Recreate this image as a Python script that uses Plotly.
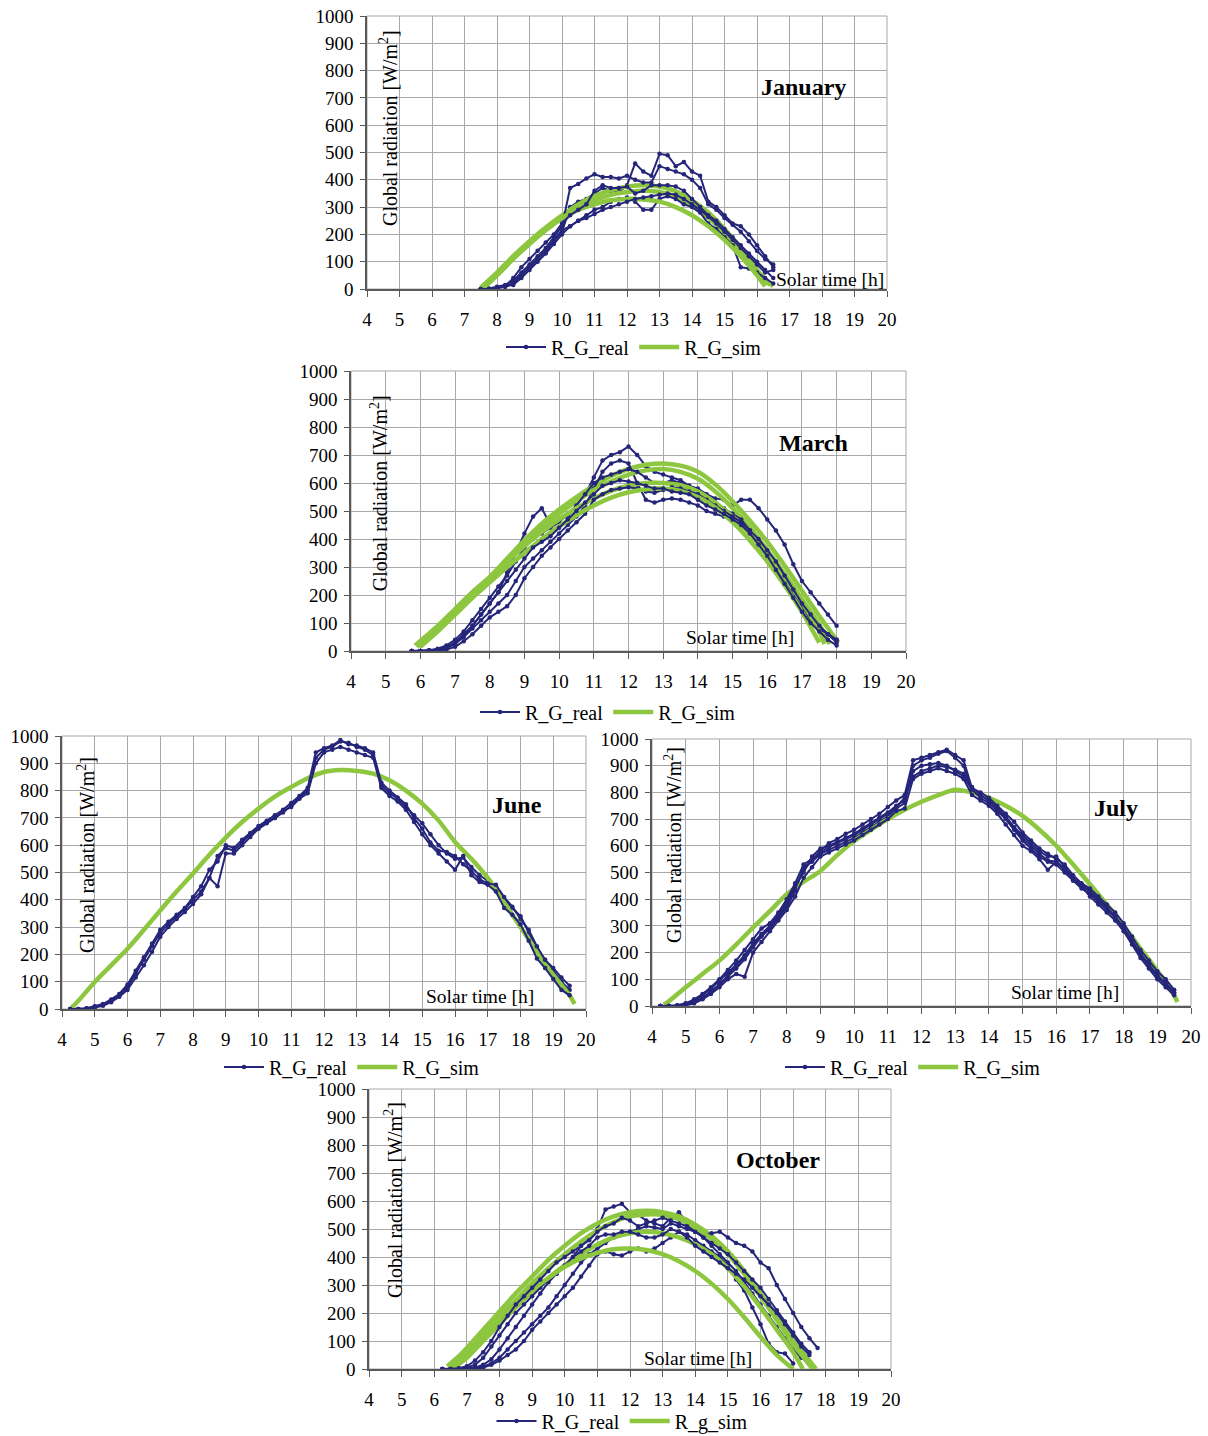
import numpy as np
import plotly.graph_objects as go

# ---------------- DATA ----------------
# January (real: 15-min samples 7.5 h .. 16.5 h)
jan_t_real = np.arange(7.5, 16.51, 0.25)
jan_real_1 = [0,0,5,10,20,50, 80,110,140,175, 210,300,320,330, 350,370,360,355, 380,460,430,415, 495,490,450,465, 430,415,320,300, 270,240,230,200, 160,120,80]
jan_real_2 = [0,2,8,15,30,60, 90,120,150,190, 230,370,385,405, 420,410,410,405, 415,400,390,390, 450,440,430,420, 400,370,310,290, 260,235,210,175, 140,110,90]
jan_real_3 = [0,0,5,10,15,40, 70,100,130,165, 200,230,250,270, 290,300,320,330, 335,320,290,290, 330,340,330,310, 300,280,240,220, 190,160,80,75, 60,40,20]
jan_real_4 = [0,0,5,10,40,80, 110,140,170,200, 240,270,290,310, 360,380,370,370, 375,350,360,380, 380,380,375,360, 330,300,270,250, 220,190,160,130, 100,70,40]
jan_real_5 = [0,0,3,8,20,50, 80,110,140,180, 215,230,250,260, 275,290,300,310, 320,330,335,340, 345,350,345,330, 310,290,265,240, 210,180,150,120, 90,60,70]
jan_sim_t1 = [7.5,8,8.5,9,9.5,10,10.5,11,11.5,12,12.5,13,13.5,14,14.5,15,15.5,16,16.4]
jan_sim_1 = [5,60,120,175,225,270,310,340,362,375,380,375,358,325,280,220,150,70,15]
jan_sim_t2 = [7.6,8,8.5,9,9.5,10,10.5,11,11.5,12,12.5,13,13.5,14,14.5,15,15.5,16,16.5]
jan_sim_2 = [5,50,110,165,215,260,295,325,345,355,360,355,338,305,262,205,140,65,10]
jan_sim_t3 = [7.5,8,8.5,9,9.5,10,10.5,11,11.5,12,12.5,13,13.5,14,14.5,15,15.5,16,16.25]
jan_sim_3 = [5,55,115,170,220,260,290,310,325,330,328,320,300,270,230,180,120,50,10]

# March (real: 5.75 h .. 18 h)
mar_t_real = np.arange(5.75, 18.01, 0.25)
mar_real_1 = [0, 0,2,5,15, 30,60,90,130, 170,210,280,350, 420,480,510,450, 470,480,520,560, 620,680,700,710, 730,700,660,640, 630,620,610,590, 580,560,545,540, 520,540,540,510, 470,430,380,310, 250,210,170,130, 90]
mar_real_2 = [0, 0,0,3,10, 25,50,80,110, 140,170,200,250, 300,330,360,390, 420,450,480,520, 580,640,670,680, 670,600,540,530, 540,545,540,530, 520,500,490,480, 470,450,420,380, 340,290,250,200, 160,120,90,60, 40]
mar_real_3 = [0, 0,3,8,20, 40,70,110,150, 190,230,270,320, 370,400,420,440, 460,490,520,560, 600,620,630,640, 650,640,620,600, 600,610,600,590, 570,550,530,510, 490,470,430,390, 350,300,250,200, 150,110,80,60, 40]
mar_real_4 = [0, 0,0,2,5, 15,35,60,90, 120,140,160,200, 260,300,340,370, 400,430,460,490, 540,560,575,580, 585,580,570,565, 575,585,580,570, 560,540,520,500, 480,460,430,400, 360,320,270,220, 170,130,90,60, 30]
mar_real_5 = [0, 0,2,5,12, 30,55,90,130, 170,210,250,290, 330,370,390,410, 440,470,500,530, 560,590,600,610, 605,600,590,580, 580,570,565,560, 540,520,505,490, 470,450,420,380, 340,290,240,190, 140,100,70,40, 20]
mar_sim_t1 = [5.85,6.5,7,7.5,8,8.5,9,9.5,10,10.5,11,11.5,12,12.5,13,13.5,14,14.5,15,15.5,16,16.5,17,17.5,18.05]
mar_sim_1 = [20,90,150,210,265,330,395,455,505,550,590,625,650,665,670,662,640,595,535,465,390,305,215,125,30]
mar_sim_t2 = [5.9,6.5,7,7.5,8,8.5,9,9.5,10,10.5,11,11.5,12,12.5,13,13.5,14,14.5,15,15.5,16,16.5,17,17.5,17.8]
mar_sim_2 = [15,80,140,200,255,320,385,440,490,535,575,605,630,645,650,640,615,570,510,440,360,275,185,95,25]
mar_sim_t3 = [5.9,6.5,7,7.5,8,8.5,9,9.5,10,10.5,11,11.5,12,12.5,13,13.5,14,14.5,15,15.5,16,16.5,17,17.5,17.65]
mar_sim_3 = [20,85,145,205,260,320,375,425,470,510,545,572,590,600,600,592,570,530,480,420,345,265,175,70,25]
mar_sim_t4 = [6.0,6.5,7,7.5,8,8.5,9,9.5,10,10.5,11,11.5,12,12.5,13,13.5,14,14.5,15,15.5,16,16.5,17,17.5]
mar_sim_4 = [15,70,130,190,245,300,350,400,445,485,520,548,567,578,580,572,550,512,460,395,320,235,140,30]

# June (real: 4.25 h .. 19.5 h)
jun_t_real = np.arange(4.25, 19.51, 0.25)
jun_real_1 = [0,0,2,8, 15,30,50,80, 130,180,230,280, 310,340,365,400, 430,480,560,590, 580,610,640,665, 685,700,720,745, 775,800,920,950, 960,980,975,960, 950,930,820,790, 770,740,710,680, 640,600,570,550, 555,520,490,470, 450,400,370,340, 280,220,180,140, 100,70]
jun_real_2 = [0,0,3,10, 18,35,55,90, 140,190,240,290, 320,345,370,410, 450,510,540,600, 590,620,645,670, 690,710,730,755, 780,810,940,955, 965,985,970,965, 955,940,830,800, 775,750,700,660, 610,580,575,560, 530,505,475,460, 455,410,375,330, 290,230,180,150, 115,85]
jun_real_3 = [0,0,0,5, 12,25,45,70, 115,160,210,265, 300,330,355,385, 420,480,450,570, 570,600,630,660, 680,700,725,740, 770,790,900,940, 950,960,950,940, 930,920,810,780, 760,730,685,640, 600,570,540,510, 560,490,465,455, 430,370,345,310, 250,185,150,110, 70,50]
jun_sim_t1 = [4.3,4.5,5,5.5,6,6.5,7,7.5,8,8.5,9,9.5,10,10.5,11,11.5,12,12.5,13,13.5,14,14.5,15,15.5,16,16.5,17,17.5,18,18.5,19,19.5,19.65]
jun_sim_1 = [5,30,99,160,221,290,361,430,496,565,628,685,734,778,813,845,868,875,872,862,838,800,752,690,612,550,480,390,300,210,125,50,18]

# July (real: 4.25 h .. 19.5 h)
jul_t_real = np.arange(4.25, 19.51, 0.25)
jul_real_1 = [0,0,0,5, 15,30,55,80, 110,140,175,220, 260,290,330,370, 430,520,540,570, 585,600,615,630, 650,670,690,710, 740,760,900,920, 930,945,955,930, 900,800,790,770, 740,710,670,640, 610,580,560,560, 520,480,450,430, 400,370,340,300, 250,200,160,120, 90,60]
jul_real_2 = [0,0,2,8, 20,40,65,95, 125,155,190,235, 270,300,340,390, 450,500,560,590, 600,615,630,645, 665,685,705,725, 750,770,880,900, 905,910,900,880, 860,810,780,760, 730,700,660,620, 590,560,540,530, 500,470,440,420, 390,360,330,290, 240,190,150,110, 80,50]
jul_real_3 = [0,0,0,3, 10,25,45,70, 100,120,110,200, 240,280,320,360, 410,480,520,560, 575,590,605,620, 640,660,680,700, 730,740,850,870, 880,890,880,870, 850,790,770,750, 720,680,640,600, 580,550,510,540, 510,470,450,410, 380,350,320,280, 230,180,140,100, 70,40]
jul_real_4 = [0,0,3,10, 25,45,70,100, 135,170,210,250, 290,310,350,400, 460,530,550,580, 610,625,645,660, 680,700,720,745, 770,790,920,930, 940,950,960,940, 920,815,800,780, 750,720,690,650, 620,590,570,550, 530,490,460,440, 410,380,350,310, 260,210,170,130, 100,60]
jul_real_5 = [0,0,0,4, 12,28,50,80, 115,150,185,230, 265,300,335,380, 440,510,545,575, 595,610,625,640, 660,680,700,720, 745,780,860,880, 890,900,895,885, 870,820,790,770, 740,705,665,630, 600,570,545,540, 515,480,455,430, 400,370,335,295, 245,195,155,115, 85,50]
jul_sim_t1 = [4.35,4.5,5,5.5,6,6.5,7,7.5,8,8.5,9,9.5,10,10.5,11,11.5,12,12.5,13,13.5,14,14.5,15,15.5,16,16.5,17,17.5,18,18.5,19,19.5,19.6]
jul_sim_1 = [5,18,70,120,170,230,294,355,419,465,506,565,618,660,700,735,765,790,810,800,780,750,712,660,600,530,456,380,300,215,132,40,15]

# October (real: 6.25 h .. 17.75 h)
oct_t_real = np.arange(6.25, 17.76, 0.25)
oct_real_1 = [0,0,0,2, 5,15,35,70, 110,150,190,230, 270,310,340,370, 400,440,470,500, 570,580,590,560, 550,530,520,510, 540,560,520,490, 470,440,410,380, 350,310,270,230, 190,150,110,70, 40,20,None]
oct_real_2 = [0,0,0,0, 3,8,20,40, 70,100,130,160, 190,220,260,300, 340,380,410,430, 450,470,480,490, 500,510,505,500, 520,510,500,490, 480,485,490,470, 450,440,420,380, 360,300,250,200, 150,110,75]
oct_real_3 = [0,0,0,0, 0,5,15,30, 50,70,100,140, 170,200,230,260, 290,330,370,410, 420,410,405,420, 430,420,430,450, 470,490,480,460, 440,420,400,370, 320,280,220,160, 90,60,55,20, None,None,None]
oct_real_4 = [0,0,2,5, 15,40,80,120, 160,200,230,260, 290,320,340,370, 400,420,440,470, 480,480,490,490, 480,470,470,480, 500,490,470,440, 420,400,380,360, 340,320,290,260, 230,200,160,120, 80,50,None]
oct_real_5 = [0,0,3,10, 30,60,100,150, 190,230,260,290, 320,350,380,400, 420,440,460,490, 510,520,540,530, 510,520,530,540, 530,520,510,490, 470,450,430,410, 380,350,320,290, 250,210,170,130, 90,60,None]
oct_sim_t1 = [6.4,6.75,7,7.5,8,8.5,9,9.5,10,10.5,11,11.5,12,12.5,13,13.5,14,14.5,15,15.5,16,16.5,17,17.5,17.7]
oct_sim_1 = [10,45,75,140,205,270,330,390,440,485,520,545,560,565,560,545,515,475,420,350,270,185,100,30,0]
oct_sim_t2 = [6.5,7,7.5,8,8.5,9,9.5,10,10.5,11,11.5,12,12.5,13,13.5,14,14.5,15,15.5,16,16.5,17,17.5,17.6]
oct_sim_2 = [5,55,120,185,245,305,360,410,455,495,525,545,552,550,535,505,465,410,340,260,175,90,15,0]
oct_sim_t3 = [6.6,7,7.5,8,8.5,9,9.5,10,10.5,11,11.5,12,12.5,13,13.5,14,14.5,15,15.5,16,16.5,17,17.3]
oct_sim_3 = [5,40,100,160,220,275,325,370,410,445,470,485,490,485,470,445,410,360,295,220,140,60,0]
oct_sim_t4 = [6.6,7,7.5,8,8.5,9,9.5,10,10.5,11,11.5,12,12.5,13,13.5,14,14.5,15,15.5,16,16.5,17.0]
oct_sim_4 = [5,45,105,165,225,280,325,365,395,415,428,430,425,410,385,350,305,250,185,115,50,0]

months = ["January", "March", "June", "July", "October"]
sim_names = ["R_G_sim", "R_G_sim", "R_G_sim", "R_G_sim", "R_g_sim"]
real_name = "R_G_real"
x_ticks = list(range(4, 21))
y_ticks = list(range(0, 1001, 100))

panels = [
    dict(t=jan_t_real, reals=[jan_real_1, jan_real_2, jan_real_3, jan_real_4, jan_real_5],
         sims=[(jan_sim_t1, jan_sim_1), (jan_sim_t2, jan_sim_2), (jan_sim_t3, jan_sim_3)]),
    dict(t=mar_t_real, reals=[mar_real_1, mar_real_2, mar_real_3, mar_real_4, mar_real_5],
         sims=[(mar_sim_t1, mar_sim_1), (mar_sim_t2, mar_sim_2), (mar_sim_t3, mar_sim_3), (mar_sim_t4, mar_sim_4)]),
    dict(t=jun_t_real, reals=[jun_real_1, jun_real_2, jun_real_3],
         sims=[(jun_sim_t1, jun_sim_1)]),
    dict(t=jul_t_real, reals=[jul_real_1, jul_real_2, jul_real_3, jul_real_4, jul_real_5],
         sims=[(jul_sim_t1, jul_sim_1)]),
    dict(t=oct_t_real, reals=[oct_real_1, oct_real_2, oct_real_3, oct_real_4, oct_real_5],
         sims=[(oct_sim_t1, oct_sim_1), (oct_sim_t2, oct_sim_2), (oct_sim_t3, oct_sim_3), (oct_sim_t4, oct_sim_4)]),
]

# ---------------- LAYOUT GEOMETRY (pixels in 1208x1436 page) ----------------
W, H = 1208, 1436
# plot areas: left, right, top, bottom
boxes = [(367, 887, 16, 289), (351, 906, 371, 651), (62, 586, 736, 1009),
         (652, 1191, 739, 1006), (369, 891, 1089, 1369)]
legend_pos = [(634, 347), (608, 712), (352, 1067), (913, 1067), (622, 1421)]
month_pos = [(17.42, 740), (17.32, 743), (17.89, 747), (17.77, 742), (16.54, 746)]
solar_pos = [(18.25, 33), (15.21, 50), (16.76, 44), (16.26, 49), (14.08, 39)]
ytitle_pos = [(4.65, 590), (4.81, 564), (4.73, 564), (4.62, 603), (4.74, 604)]

BLUE = "#25257A"
GREEN = "#8DC63F"
GRID = "#A8A8A8"
AXIS = "#5A5A5A"
FONT = "Liberation Serif"

fig = go.Figure()
layout = dict(width=W, height=H, margin=dict(l=0, r=0, t=0, b=0, pad=0, autoexpand=False),
              paper_bgcolor="white", plot_bgcolor="white",
              font=dict(family=FONT, size=19, color="black"),
              annotations=[], shapes=[])

for i, p in enumerate(panels):
    k = i + 1
    xs = "" if k == 1 else str(k)
    xref, yref = "x" + xs, "y" + xs
    leg = "legend" + ("" if k == 1 else str(k))
    reals, sims = p["reals"], p["sims"]
    n = max(len(reals), len(sims))
    first_r, first_s = True, True
    for j in range(n):
        if j < len(reals):
            fig.add_trace(go.Scatter(
                x=p["t"], y=reals[j], mode="lines+markers", name=real_name,
                line=dict(color=BLUE, width=2), marker=dict(color=BLUE, size=4.5),
                xaxis=xref, yaxis=yref, legend=leg, showlegend=first_r,
                connectgaps=False))
            first_r = False
        if j < len(sims):
            st, sv = sims[j]
            fig.add_trace(go.Scatter(
                x=st, y=sv, mode="lines", name=sim_names[i],
                line=dict(color=GREEN, width=4.5, shape="spline", smoothing=0.8),
                xaxis=xref, yaxis=yref, legend=leg, showlegend=first_s))
            first_s = False

    l, r, t, b = boxes[i]
    layout["xaxis" + xs] = dict(
        domain=[l / W, r / W], anchor=yref, range=[4, 20], tickvals=x_ticks,
        showgrid=True, gridcolor=GRID, gridwidth=1, zeroline=False, automargin=False,
        showline=True, linecolor=AXIS, linewidth=1.5,
        ticks="outside", ticklen=6, tickcolor=AXIS, ticklabelstandoff=6,
        tickfont=dict(family=FONT, size=19, color="black"))
    layout["yaxis" + xs] = dict(
        domain=[1 - b / H, 1 - t / H], anchor=xref, range=[0, 1000], tickvals=y_ticks,
        showgrid=True, gridcolor=GRID, gridwidth=1, zeroline=False, automargin=False,
        showline=True, linecolor=AXIS, linewidth=1.5,
        ticks="outside", ticklen=5, tickcolor=AXIS, ticklabelstandoff=3,
        tickfont=dict(family=FONT, size=19, color="black"))
    layout["shapes"].append(dict(type="rect", xref=xref + " domain", yref=yref + " domain",
                                 x0=0, x1=1, y0=0, y1=1, line=dict(color=GRID, width=1),
                                 layer="below"))
    lx, ly = legend_pos[i]
    layout[leg] = dict(x=lx / W, y=1 - ly / H, xanchor="center", yanchor="middle",
                       orientation="h", bgcolor="rgba(0,0,0,0)",
                       font=dict(family=FONT, size=20, color="black"),
                       itemwidth=40, tracegroupgap=0)
    mx, my = month_pos[i]
    layout["annotations"].append(dict(x=mx, y=my, xref=xref, yref=yref, text="<b>%s</b>" % months[i],
                                      showarrow=False, font=dict(family=FONT, size=24, color="black")))
    sx, sy = solar_pos[i]
    layout["annotations"].append(dict(x=sx, y=sy, xref=xref, yref=yref, text="Solar time [h]",
                                      showarrow=False, font=dict(family=FONT, size=19.5, color="black")))
    tx, ty = ytitle_pos[i]
    layout["annotations"].append(dict(x=tx, y=ty, xref=xref, yref=yref,
                                      text="Global radiation [W/m<sup>2</sup>]", textangle=-90,
                                      showarrow=False, font=dict(family=FONT, size=20, color="black")))

fig.update_layout(**layout)
fig.write_html("out.html", post_script="document.body.style.margin='0';document.body.style.overflow='hidden';")
